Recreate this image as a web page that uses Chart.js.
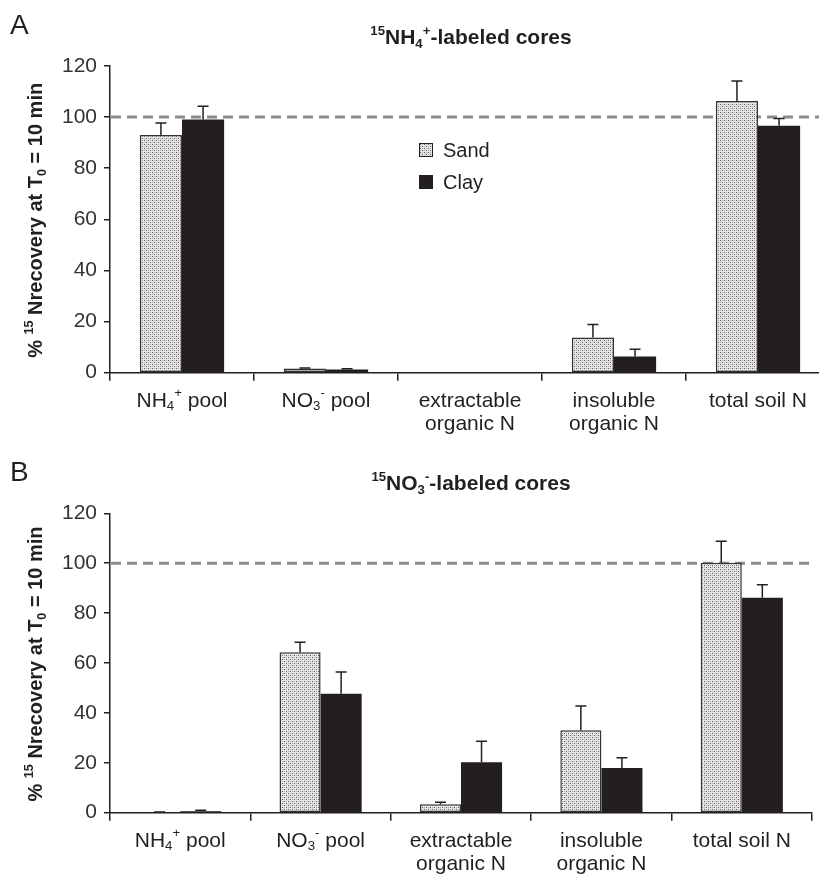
<!DOCTYPE html>
<html>
<head>
<meta charset="utf-8">
<script src="https://cdn.jsdelivr.net/npm/chart.js@4.4.1/dist/chart.umd.min.js"></script>
<style>
  body { margin: 0; background: #fff; overflow: hidden; width: 819px; height: 874px; }
  canvas { position: absolute; left: 0; }
  #chartA { top: 0; }
  #chartB { top: 437px; }
</style>
</head>
<body>
<canvas id="chartA" width="840" height="437"></canvas>
<canvas id="chartB" width="819" height="437"></canvas>
<script>
// categories and series
const categories = ['NH₄⁺ pool', 'NO₃⁻ pool', 'extractable\norganic N', 'insoluble\norganic N', 'total soil N']
const seriesNames = ['Sand', 'Clay']

// panel A: 15NH4+-labeled cores
const sandA = [93.0, 1.6, 0, 13.8, 106.3]
const sandErrA = [4.7, 0.2, 0, 5.1, 7.8]
const clayA = [99.1, 1.3, 0, 6.3, 96.6]
const clayErrA = [5.2, 0.2, 0, 2.9, 2.9]

// panel B: 15NO3--labeled cores
const sandB = [0.1, 64.3, 3.4, 33.0, 100.2]
const sandErrB = [0.2, 4.0, 0.8, 9.8, 8.6]
const clayB = [0.6, 47.7, 20.2, 17.9, 86.2]
const clayErrB = [0.4, 8.7, 8.4, 4.1, 5.2]

const yMin = 0
const yMax = 120
const yStep = 20
const refLine = 100
const yTitle = '% ¹⁵ Nrecovery at T₀ = 10 min'

const FAMILY = '"Liberation Sans", Arial, Helvetica, sans-serif'
const INK = '#231f20'

const SUP = {'⁰':'0','¹':'1','²':'2','³':'3','⁴':'4','⁵':'5','⁶':'6','⁷':'7','⁸':'8','⁹':'9','⁺':'+','⁻':'-'}
const SUB = {'₀':'0','₁':'1','₂':'2','₃':'3','₄':'4','₅':'5','₆':'6','₇':'7','₈':'8','₉':'9'}

function parseRich(str) {
  const segs = []
  for (const ch of str) {
    let kind = 'n', c = ch
    if (SUP[ch]) { kind = 'sup'; c = SUP[ch] }
    else if (SUB[ch]) { kind = 'sub'; c = SUB[ch] }
    const last = segs[segs.length - 1]
    if (last && last.kind == kind) last.t += c
    else segs.push({kind: kind, t: c})
  }
  return segs
}

// draws text with small raised / lowered pieces, centred on x
function drawRich(ctx, str, x, y, size, bold, color) {
  const segs = parseRich(str)
  const w = bold ? 'bold ' : ''
  let total = 0
  segs.forEach(s => {
    s.size = s.kind == 'n' ? size : size * 0.63
    ctx.font = w + s.size + 'px ' + FAMILY
    s.w = ctx.measureText(s.t).width
    total += s.w
  })
  let cx = x - total / 2
  ctx.fillStyle = color
  ctx.textAlign = 'left'
  ctx.textBaseline = 'alphabetic'
  segs.forEach(s => {
    ctx.font = w + s.size + 'px ' + FAMILY
    let dy = 0
    if (s.kind == 'sup') dy = -0.45 * size
    if (s.kind == 'sub') dy = 0.18 * size
    ctx.fillText(s.t, cx, y + dy)
    cx += s.w
  })
}

function stipple(ctx) {
  const c = document.createElement('canvas')
  c.width = 4; c.height = 4
  const g = c.getContext('2d')
  g.fillStyle = '#e6e6e6'; g.fillRect(0, 0, 4, 4)
  g.fillStyle = '#5a5a5a'; g.fillRect(0, 0, 1, 1); g.fillRect(2, 2, 1, 1)
  g.fillStyle = '#b0b0b0'; g.fillRect(2, 0, 1, 1); g.fillRect(0, 2, 1, 1)
  return ctx.createPattern(c, 'repeat')
}

const decor = {
  id: 'decor',
  beforeDatasetsDraw(chart, args, o) {
    const ctx = chart.ctx, a = chart.chartArea
    const y = chart.scales.y.getPixelForValue(refLine)
    ctx.save()
    ctx.strokeStyle = '#8c8c8c'
    ctx.lineWidth = 3
    ctx.setLineDash([10, 6])
    ctx.beginPath()
    ctx.moveTo(a.left + 1, y)
    ctx.lineTo(a.right, y)
    ctx.stroke()
    ctx.restore()
  },
  afterDatasetsDraw(chart, args, o) {
    const ctx = chart.ctx, ys = chart.scales.y
    ctx.save()
    ctx.strokeStyle = INK
    ctx.lineWidth = 1.5
    chart.data.datasets.forEach((ds, i) => {
      const meta = chart.getDatasetMeta(i)
      meta.data.forEach((bar, j) => {
        const e = o.errs[i][j]
        if (!e) return
        const top = ys.getPixelForValue(ds.data[j] + e)
        ctx.beginPath()
        ctx.moveTo(bar.x, bar.y)
        ctx.lineTo(bar.x, top)
        ctx.moveTo(bar.x - 5.5, top)
        ctx.lineTo(bar.x + 5.5, top)
        ctx.stroke()
      })
    })
    ctx.restore()
  },
  afterDraw(chart, args, o) {
    const ctx = chart.ctx, a = chart.chartArea, xs = chart.scales.x
    ctx.save()
    // category labels
    categories.forEach((c, i) => {
      const x = xs.getPixelForValue(i)
      c.split('\n').forEach((line, k) => {
        drawRich(ctx, line, x, a.bottom + 34 + k * 23, 21, false, INK)
      })
    })
    // title and panel letter
    drawRich(ctx, o.title, 471, o.titleY, 21, true, INK)
    ctx.font = '28px ' + FAMILY
    ctx.fillStyle = INK
    ctx.textAlign = 'left'
    ctx.fillText(o.letter, 10, o.letterY)
    // y axis title
    ctx.save()
    ctx.translate(42, (a.top + a.bottom) / 2 + 1)
    ctx.rotate(-Math.PI / 2)
    drawRich(ctx, yTitle, 0, 0, 20, true, INK)
    ctx.restore()
    // legend
    if (o.legend) {
      chart.data.datasets.forEach((ds, i) => {
        const y = 143 + i * 32
        ctx.fillStyle = ds.backgroundColor
        ctx.fillRect(419, y, 14, 14)
        ctx.strokeStyle = INK
        ctx.lineWidth = 1
        ctx.strokeRect(419.5, y + 0.5, 13, 13)
        ctx.fillStyle = INK
        ctx.font = '20px ' + FAMILY
        ctx.textAlign = 'left'
        ctx.fillText(ds.label, 443, y + 14)
      })
    }
    ctx.restore()
  }
}

function makeChart(id, cfg) {
  const canvas = document.getElementById(id)
  const fill = stipple(canvas.getContext('2d'))
  return new Chart(canvas, {
    type: 'bar',
    data: {
      labels: categories,
      datasets: [{
        label: seriesNames[0],
        data: cfg.sand,
        backgroundColor: fill,
        borderColor: '#333',
        borderWidth: 1.5,
        borderSkipped: false,
        categoryPercentage: 0.585,
        barPercentage: 1
      }, {
        label: seriesNames[1],
        data: cfg.clay,
        backgroundColor: INK,
        borderColor: INK,
        borderWidth: 0,
        categoryPercentage: 0.585,
        barPercentage: 1
      }]
    },
    options: {
      responsive: false,
      animation: false,
      events: [],
      layout: { padding: { top: cfg.top, right: cfg.right, left: 0, bottom: 0 } },
      plugins: {
        legend: { display: false },
        tooltip: { enabled: false },
        decor: cfg
      },
      scales: {
        x: {
          grid: { offset: true, drawOnChartArea: false, drawTicks: true, tickLength: 8, color: INK, lineWidth: 1.5 },
          border: { color: INK, width: 1.5 },
          ticks: { display: false },
          afterFit: s => { s.height = cfg.xh }
        },
        y: {
          min: yMin,
          max: yMax,
          ticks: { stepSize: yStep, padding: 7, color: '#333', font: { family: FAMILY, size: 21 } },
          grid: { drawOnChartArea: false, tickLength: 6, color: INK, lineWidth: 1.5 },
          border: { color: INK, width: 1.5 },
          afterFit: s => { s.width = 110 }
        }
      }
    },
    plugins: [decor]
  })
}

makeChart('chartA', {
  sand: sandA, clay: clayA, errs: [sandErrA, clayErrA],
  title: '¹⁵NH₄⁺-labeled cores', titleY: 44, letter: 'A', letterY: 34,
  legend: true, top: 66, right: 10, xh: 64.3
})
makeChart('chartB', {
  sand: sandB, clay: clayB, errs: [sandErrB, clayErrB],
  title: '¹⁵NO₃⁻-labeled cores', titleY: 53, letter: 'B', letterY: 44,
  legend: false, top: 76.3, right: 7, xh: 61.3
})
</script>
</body>
</html>
